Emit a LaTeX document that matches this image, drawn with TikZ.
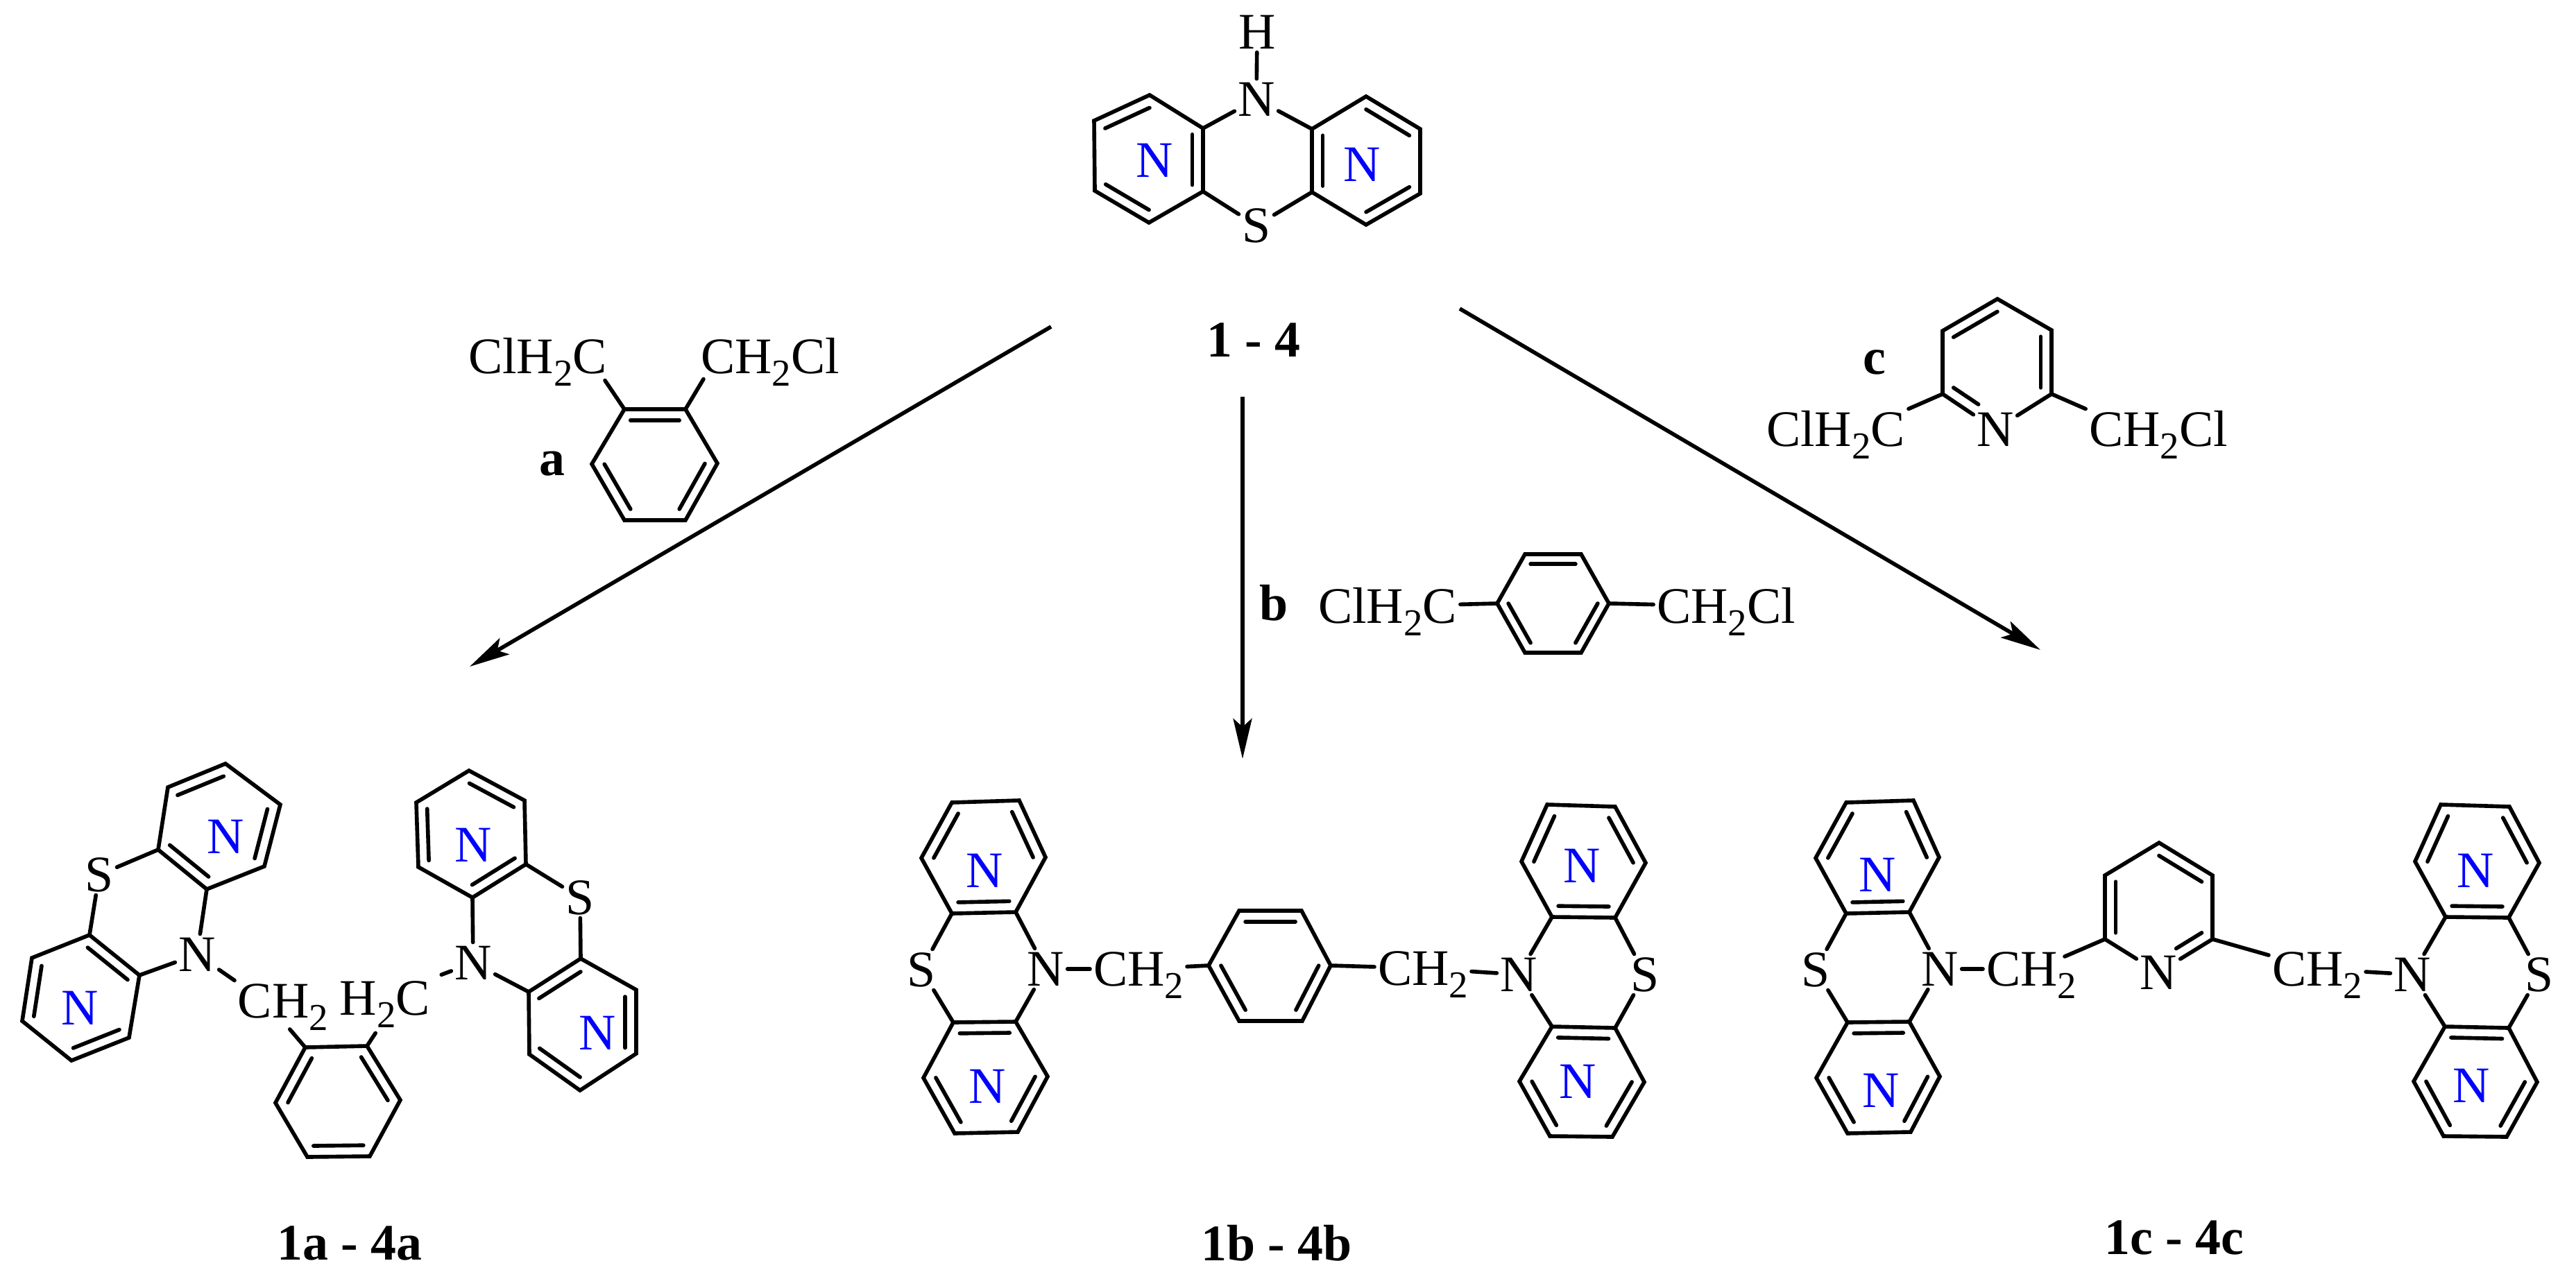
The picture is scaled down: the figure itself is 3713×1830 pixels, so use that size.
\documentclass[tikz,border=0pt]{standalone}
\usepackage{fontspec}
\setmainfont{Liberation Serif}
\usetikzlibrary{calc,arrows.meta}
\definecolor{ringblue}{RGB}{0,0,255}
\tikzset{bond/.style={line width=1.6pt,line cap=round,line join=miter},
         rxn/.style={line width=1.6pt,-{Stealth[length=.58cm,width=.27cm,inset=.12cm]}},
         atom/.style={font=\fontsize{21}{21}\selectfont,inner sep=0pt,outer sep=.05cm,
                      text height=.49cm,text depth=0pt},
         ringN/.style={atom,text=ringblue},
         tag/.style={font=\fontsize{21}{21}\selectfont\bfseries,inner sep=0pt}}
\newcommand{\subtwo}{\raisebox{-.18cm}{\fontsize{15.6}{15.6}\selectfont 2}}
\newcommand{\ringpts}[7]{%
  \coordinate (#1-1) at #2; \coordinate (#1-2) at #3; \coordinate (#1-3) at #4;
  \coordinate (#1-4) at #5; \coordinate (#1-5) at #6; \coordinate (#1-6) at #7;
  \coordinate (#1-c) at ($(#1-1)!.5!(#1-4)$);}
\newcommand{\dbl}[3]{\draw[bond] ($(#1-#2)!.2!(#1-c)$) -- ($(#1-#3)!.2!(#1-c)$);}
% vertices go round the ring, double bonds sit on 1-2, 3-4, 5-6
\newcommand{\hexring}[7]{\ringpts{#1}{#2}{#3}{#4}{#5}{#6}{#7}
  \draw[bond] (#1-1) -- (#1-2) -- (#1-3) -- (#1-4) -- (#1-5) -- (#1-6) -- cycle;
  \dbl{#1}{1}{2}\dbl{#1}{3}{4}\dbl{#1}{5}{6}}
% same, but vertex 6 is the ring nitrogen
\newcommand{\pyring}[7]{\ringpts{#1}{#2}{#3}{#4}{#5}{#6}{#7}
  \node[atom] (#1-N) at (#1-6) {N};
  \draw[bond] (#1-N) -- (#1-1) -- (#1-2) -- (#1-3) -- (#1-4) -- (#1-5) -- (#1-N);
  \dbl{#1}{1}{2}\dbl{#1}{3}{4}
  \draw[bond,shorten >=.3cm] ($(#1-5)!.2!(#1-c)$) -- ($(#1-6)!.2!(#1-c)$);}

\begin{document}
\begin{tikzpicture}[x=.01cm,y=-.01cm]
  \useasboundingbox (0,0) rectangle (3713,1830);

  % starting material
  \hexring{l0}{(1657,137)}{(1577,174)}{(1578,275)}{(1656,321)}{(1734,276)}{(1734,185)}
  \hexring{r0}{(1891,186)}{(1891,277)}{(1969,324)}{(2047,279)}{(2047,186)}{(1969,139)}
  \node[atom] (H0) at (1812,46) {H};
  \node[atom] (N0) at (1811,143) {N};
  \node[atom] (S0) at (1811,325) {S};
  \node[ringN] (Nl0) at (1664,231) {N};
  \node[ringN] (Nr0) at (1963,237) {N};
  \node[tag] (cmpd0) at (1807,490) {1 - 4};
  \draw[bond] (H0) -- (N0);
  \draw[bond] (N0) -- (l0-6);
  \draw[bond] (N0) -- (r0-1);
  \draw[bond] (S0) -- (l0-5);
  \draw[bond] (S0) -- (r0-2);

  % arrows
  \coordinate (startA) at (1515,471);
  \coordinate (endA) at (677,961);
  \coordinate (startB) at (1791,572);
  \coordinate (endB) at (1791,1094);
  \coordinate (startC) at (2104,445);
  \coordinate (endC) at (2941,937);
  \draw[rxn] (startA) -- (endA);
  \draw[rxn] (startB) -- (endB);
  \draw[rxn] (startC) -- (endC);

  % reagent a
  \hexring{ra}{(900,590)}{(988,590)}{(1034,668)}{(988,750)}{(900,750)}{(853,669)}
  \node[atom] (raL) at (775,514) {ClH\subtwo C};
  \node[atom] (raR) at (1110,514) {CH\subtwo Cl};
  \node[tag] (taga) at (796,669) {a};
  \draw[bond] ([shift={(97,5)}]raL.south) -- (ra-1);
  \draw[bond] ([shift={(-96,3)}]raR.south) -- (ra-2);

  % reagent b
  \hexring{rb}{(2198,799)}{(2279,799)}{(2319,870)}{(2279,941)}{(2198,941)}{(2158,870)}
  \node[atom] (rbL) at (2000,874) {ClH\subtwo C};
  \node[atom] (rbR) at (2488,874) {CH\subtwo Cl};
  \node[tag] (tagb) at (1836,869) {b};
  \draw[bond] (rbL) -- (rb-6);
  \draw[bond] (rbR) -- (rb-3);

  % reagent c
  \pyring{rc}{(2957,568)}{(2957,476)}{(2879,431)}{(2800,477)}{(2800,568)}{(2876,619)}
  \node[atom] (rcL) at (2646,619) {ClH\subtwo C};
  \node[atom] (rcR) at (3111,619) {CH\subtwo Cl};
  \node[tag] (tagc) at (2702,522) {c};
  \draw[bond] (rcL.north east) -- (rc-5);
  \draw[bond] (rcR.north west) -- (rc-1);

  % product a
  \hexring{a1}{(242,1135)}{(325,1101)}{(404,1160)}{(381,1249)}{(298,1282)}{(228,1225)}
  \hexring{a2}{(129,1348)}{(201,1406)}{(186,1496)}{(103,1529)}{(32,1472)}{(46,1381)}
  \hexring{a3}{(676,1111)}{(756,1154)}{(758,1246)}{(681,1294)}{(603,1250)}{(600,1157)}
  \hexring{a4}{(837,1382)}{(762,1430)}{(763,1520)}{(836,1572)}{(917,1519)}{(917,1427)}
  \hexring{a5}{(397,1590)}{(440,1510)}{(529,1508)}{(577,1586)}{(533,1667)}{(443,1668)}
  \node[atom] (Sa1) at (143,1261) {S};
  \node[atom] (Na1) at (284,1376) {N};
  \node[atom] (Sa2) at (836,1294) {S};
  \node[atom] (Na2) at (682,1388) {N};
  \node[atom] (CHa1) at (408,1443) {CH\subtwo};
  \node[atom] (CHa2) at (555,1439) {H\subtwo C};
  \node[ringN] (Na3) at (325,1206) {N};
  \node[ringN] (Na4) at (115,1453) {N};
  \node[ringN] (Na5) at (682,1218) {N};
  \node[ringN] (Na6) at (861,1489) {N};
  \node[tag] (cmpda) at (504,1792) {1a - 4a};
  \draw[bond] (Sa1) -- (a1-6);
  \draw[bond] (Sa1) -- (a2-1);
  \draw[bond] (Na1) -- (a1-5);
  \draw[bond] (Na1) -- (a2-2);
  \draw[bond] (Sa2) -- (a3-3);
  \draw[bond] (Sa2) -- (a4-1);
  \draw[bond] (Na2) -- (a3-4);
  \draw[bond] (Na2) -- (a4-2);
  \draw[bond] (Na1) -- (CHa1.north west);
  \draw[bond,shorten <=.12cm] (CHa2.north east) -- (Na2);
  \draw[bond,shorten <=.15cm] (CHa1.south) -- (a5-2);
  \draw[bond,shorten <=.25cm] (CHa2.south) -- (a5-3);

  % product b
  \hexring{b1}{(1328,1237)}{(1372,1157)}{(1469,1154)}{(1507,1236)}{(1464,1315)}{(1372,1317)}
  \hexring{b2}{(1374,1474)}{(1464,1473)}{(1510,1552)}{(1467,1632)}{(1376,1634)}{(1331,1554)}
  \hexring{b3}{(1786,1313)}{(1876,1313)}{(1918,1392)}{(1877,1472)}{(1786,1472)}{(1742,1392)}
  \hexring{b4}{(2193,1242)}{(2230,1160)}{(2328,1163)}{(2372,1244)}{(2328,1323)}{(2237,1322)}
  \hexring{b5}{(2237,1480)}{(2328,1482)}{(2370,1560)}{(2324,1639)}{(2234,1638)}{(2190,1559)}
  \node[atom] (Sb1) at (1328,1398) {S};
  \node[atom] (Nb1) at (1507,1397) {N};
  \node[atom] (Sb2) at (2371,1405) {S};
  \node[atom] (Nb2) at (2189,1405) {N};
  \node[atom] (CHb1) at (1641,1397) {CH\subtwo};
  \node[atom] (CHb2) at (2051,1396) {CH\subtwo};
  \node[ringN] (Nb3) at (1419,1255) {N};
  \node[ringN] (Nb4) at (1423,1566) {N};
  \node[ringN] (Nb5) at (2280,1248) {N};
  \node[ringN] (Nb6) at (2274,1559) {N};
  \node[tag] (cmpdb) at (1840,1792) {1b - 4b};
  \draw[bond] (Sb1) -- (b1-6);
  \draw[bond] (Sb1) -- (b2-1);
  \draw[bond] (Nb1) -- (b1-5);
  \draw[bond] (Nb1) -- (b2-2);
  \draw[bond] (Sb2) -- (b4-5);
  \draw[bond] (Sb2) -- (b5-2);
  \draw[bond] (Nb2) -- (b4-6);
  \draw[bond] (Nb2) -- (b5-1);
  \draw[bond] (Nb1) -- (CHb1);
  \draw[bond] (CHb1) -- (b3-6);
  \draw[bond] (b3-3) -- (CHb2);
  \draw[bond] (CHb2) -- (Nb2);

  % product c
  \hexring{c1}{(2617,1237)}{(2661,1157)}{(2758,1154)}{(2795,1236)}{(2752,1315)}{(2661,1317)}
  \hexring{c2}{(2663,1474)}{(2752,1473)}{(2796,1552)}{(2754,1632)}{(2663,1634)}{(2618,1554)}
  \pyring{c3}{(3034,1354)}{(3034,1262)}{(3112,1215)}{(3189,1262)}{(3189,1354)}{(3111,1402)}
  \hexring{c4}{(3481,1242)}{(3518,1160)}{(3617,1163)}{(3660,1244)}{(3616,1323)}{(3525,1322)}
  \hexring{c5}{(3524,1480)}{(3616,1482)}{(3657,1560)}{(3613,1639)}{(3522,1638)}{(3479,1559)}
  \node[atom] (Sc1) at (2617,1398) {S};
  \node[atom] (Nc1) at (2796,1397) {N};
  \node[atom] (Sc2) at (3660,1405) {S};
  \node[atom] (Nc2) at (3477,1405) {N};
  \node[atom] (CHc1) at (2928,1397) {CH\subtwo};
  \node[atom] (CHc2) at (3340,1397) {CH\subtwo};
  \node[ringN] (Nc3) at (2706,1261) {N};
  \node[ringN] (Nc4) at (2711,1572) {N};
  \node[ringN] (Nc5) at (3568,1255) {N};
  \node[ringN] (Nc6) at (3562,1565) {N};
  \node[tag] (cmpdc) at (3134,1784) {1c - 4c};
  \draw[bond] (Sc1) -- (c1-6);
  \draw[bond] (Sc1) -- (c2-1);
  \draw[bond] (Nc1) -- (c1-5);
  \draw[bond] (Nc1) -- (c2-2);
  \draw[bond] (Sc2) -- (c4-5);
  \draw[bond] (Sc2) -- (c5-2);
  \draw[bond] (Nc2) -- (c4-6);
  \draw[bond] (Nc2) -- (c5-1);
  \draw[bond] (Nc1) -- (CHc1);
  \draw[bond] ([shift={(48,-18)}]CHc1.center) -- (c3-1);
  \draw[bond] (c3-5) -- (CHc2);
  \draw[bond] (CHc2) -- (Nc2);
\end{tikzpicture}
\end{document}
